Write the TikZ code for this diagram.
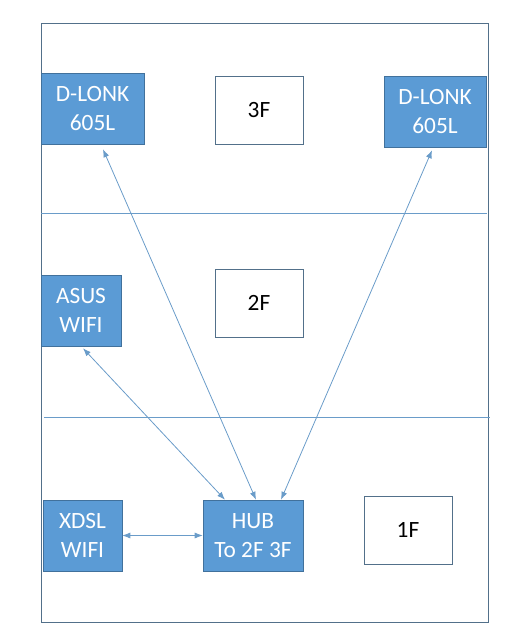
\documentclass[tikz,border=0pt]{standalone}
\usepackage{fontspec}
\setmainfont{Carlito}
\usetikzlibrary{calc,arrows.meta}
\definecolor{devblue}{HTML}{5B9BD5}
\definecolor{devedge}{HTML}{41719C}
\definecolor{linkblue}{HTML}{6A9CC9}
\definecolor{framegray}{HTML}{52708A}
\tikzset{
  dev/.style={draw=devedge, fill=devblue, text=white, align=center,
    inner sep=0pt, font=\fontsize{17.5}{21.75}\selectfont},
  floorbox/.style={draw=framegray, fill=white, text=black, inner sep=0pt,
    minimum width=66pt, font=\fontsize{17.5}{21.75}\selectfont},
  link/.style={draw=linkblue, line width=0.6pt,
    {Latex[length=6pt,width=4.5pt]}-{Latex[length=6pt,width=4.5pt]}}
}
\begin{document}
\begin{tikzpicture}[x=0.75pt, y=-0.75pt]
\useasboundingbox (0,0) rectangle (527,643);
% Cadre
\draw[framegray, line width=0.6pt] (41,23) rectangle (488,622);
% Etages
\draw[linkblue, line width=0.6pt] (41,213) -- (487,213);
\draw[linkblue, line width=0.6pt] (44,417) -- (490,417);
% 3F
\node[dev, minimum width=77.25pt, minimum height=53.25pt] (dlonkl) at (92.5,108.5) {D-LONK\\605L};
\node[floorbox, minimum height=51pt] (f3) at (259,110) {3F};
\node[dev, minimum width=76.5pt, minimum height=53.25pt] (dlonkr) at (435,111.5) {D-LONK\\605L};
% 2F
\node[dev, minimum width=60pt, minimum height=53.25pt] (asus) at (81,310.5) {ASUS\\WIFI};
\node[floorbox, minimum height=51pt] (f2) at (259,303) {2F};
% 1F
\node[dev, minimum width=59.25pt, minimum height=53.25pt] (xdsl) at (82.5,535.5) {XDSL\\WIFI};
\node[dev, minimum width=75pt, minimum height=53.25pt] (hub) at (253,535.5) {HUB\\To 2F 3F};
\node[floorbox, minimum height=51pt] (f1) at (408,530) {1F};
% Liaisons
\draw[link] (xdsl) -- (hub);
\draw[link] ($(asus.south)+(2,2)$) -- ($(hub.north)+(-28,0)$);
\draw[link] ($(dlonkl.south)+(10.5,5)$) -- ($(hub.north)+(3,0)$);
\draw[link] ($(dlonkr.south)+(-3,3)$) -- ($(hub.north)+(28,0)$);
\end{tikzpicture}
\end{document}
